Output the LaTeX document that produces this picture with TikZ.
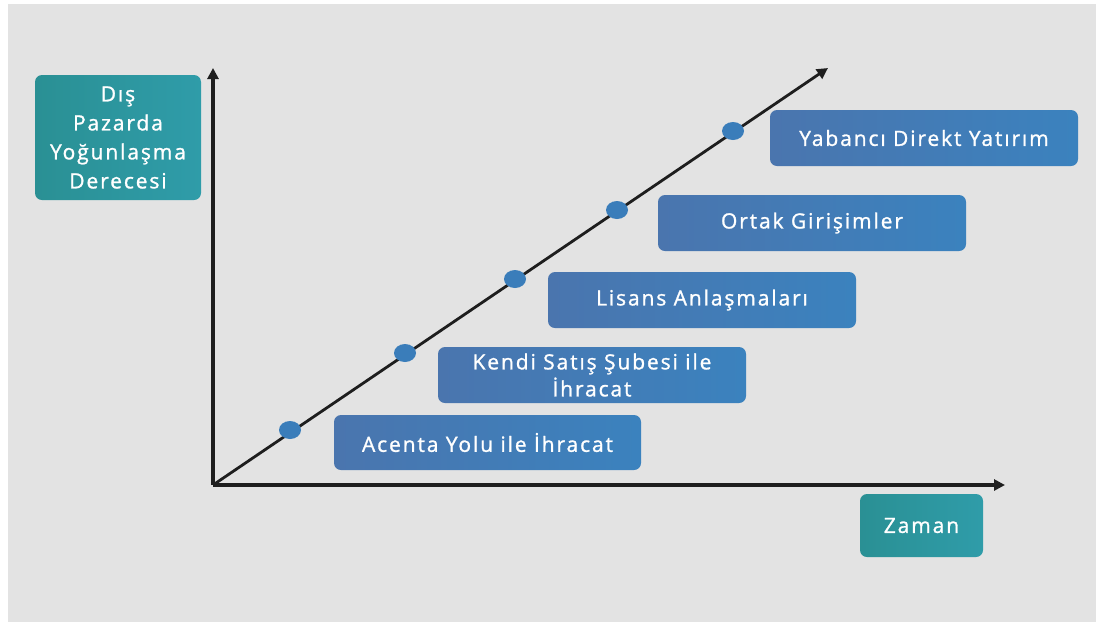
\documentclass[tikz,border=0pt]{standalone}
\usepackage{fontspec}
\setmainfont[LetterSpace=9,FakeBold=1.2]{Open Sans}
\usetikzlibrary{arrows.meta,shapes.geometric}
\definecolor{bg}{HTML}{E3E3E3}
\definecolor{boxblue}{HTML}{3B82BE}
\definecolor{boxblueL}{HTML}{4A75AE}
\definecolor{teal}{HTML}{2F9CA9}
\definecolor{tealL}{HTML}{2A9094}
\definecolor{dotblue}{HTML}{3A7DBA}
\definecolor{axis}{HTML}{1E1E1E}
\tikzset{
  stagebox/.style={rounded corners=7pt, left color=boxblueL, right color=boxblue, text=white, font=\fontsize{21}{27}\selectfont, align=center, inner sep=0pt},
  tealbox/.style={rounded corners=7pt, left color=tealL, right color=teal, text=white, font=\fontsize{21}{29}\selectfont, align=center, inner sep=0pt},
  axisline/.style={line width=3.2pt, draw=axis, -{Triangle[length=11pt,width=11pt]}},
  diagline/.style={line width=2.8pt, draw=axis, -{Triangle[length=11pt,width=11pt]}},
  stagedot/.style={ellipse, fill=dotblue, minimum width=22pt, minimum height=18pt, inner sep=0pt}
}
\begin{document}
\begin{tikzpicture}[x=1pt,y=-1pt]
\useasboundingbox (0,0) rectangle (1096,622);
\fill[white] (0,0) rectangle (1096,622);
\fill[bg] (8,4) rectangle (1096,622);
% axes
\coordinate (O) at (213,485);
\coordinate (ytip) at (213,68);
\coordinate (xtip) at (1005,485);
\coordinate (dtip) at (828,68);
\draw[axisline] (O) -- (ytip);
\draw[axisline] (O) -- (xtip);
\draw[diagline] (O) -- (dtip);
% dots
\node[stagedot] (d1) at (290,430) {};
\node[stagedot] (d2) at (405,353) {};
\node[stagedot] (d3) at (515,279) {};
\node[stagedot] (d4) at (617,210) {};
\node[stagedot] (d5) at (733,131) {};
% boxes
\node[stagebox, minimum width=307pt, minimum height=55pt] (b1) at (487.5,442.5) {Acenta Yolu ile İhracat};
\node[stagebox, minimum width=308pt, minimum height=56pt] (b2) at (592,375) {Kendi Satış Şubesi ile\\İhracat};
\node[stagebox, minimum width=308pt, minimum height=56pt] (b3) at (702,300) {Lisans Anlaşmaları};
\node[stagebox, minimum width=308pt, minimum height=56pt] (b4) at (812,223) {Ortak Girişimler};
\node[stagebox, minimum width=308pt, minimum height=56pt] (b5) at (924,138) {Yabancı Direkt Yatırım};
% axis labels
\node[tealbox, minimum width=166pt, minimum height=125pt] (ylab) at (118,137.5) {Dış\\Pazarda\\Yoğunlaşma\\Derecesi};
\node[tealbox, minimum width=123pt, minimum height=63pt] (xlab) at (921.5,525.5) {Zaman};
\end{tikzpicture}
\end{document}
